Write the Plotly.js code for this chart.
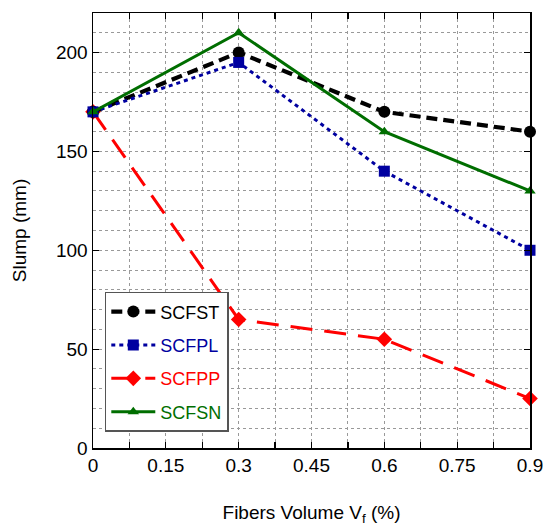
<!DOCTYPE html>
<html><head><meta charset="utf-8">
<script src="https://cdn.plot.ly/plotly-3.0.1.min.js"></script>
<style>html,body{margin:0;padding:0;background:#fff}#c{width:543px;height:526px}</style>
</head><body><div id="c"></div>
<script>
var fiberVolume = [0, 0.3, 0.6, 0.9];
var scfst = [170, 200, 170, 160];
var scfpl = [170, 195, 140, 100];
var scfpp = [170, 65, 55, 25];
var scfsn = [170, 210, 160, 130];
var xTickVals = [0, 0.15, 0.3, 0.45, 0.6, 0.75, 0.9];
var xTickText = ['0', '0.15', '0.3', '0.45', '0.6', '0.75', '0.9'];

function tr(name, y, color, dash, width, symbol, size, grp, rank) {
  return {x: fiberVolume, y: y, mode: 'lines+markers', legendgroup: grp, legendrank: rank,
    cliponaxis: false,
    name: '<span style="color:' + color + '">' + name + '</span>',
    line: {color: color, dash: dash, width: width},
    marker: {symbol: symbol, size: size, color: color}};
}
var data = [
  tr('SCFPP', scfpp, '#ff0000', '22px,12px', 3, 'diamond', 12, 'c', 3),
  tr('SCFST', scfst, '#000000', '11px,6px', 4.2, 'circle', 12, 'a', 1),
  tr('SCFPL', scfpl, '#0000a0', '4px,4px', 3, 'square', 11, 'b', 2),
  tr('SCFSN', scfsn, '#006e00', 'solid', 3, 'triangle-up', 10, 'd', 4)
];
var font = {family: 'Liberation Sans, Arial, sans-serif', size: 19, color: '#000'};
var layout = {
  width: 543, height: 526,
  margin: {l: 93, r: 13, t: 13, b: 78},
  paper_bgcolor: '#fff', plot_bgcolor: '#fff',
  font: font,
  showlegend: true,
  legend: {x: 0.027, y: 0.359, xanchor: 'left', yanchor: 'top',
    bgcolor: '#fff', bordercolor: '#555', borderwidth: 1.5, itemwidth: 44,
    traceorder: 'grouped', tracegroupgap: 7, font: {family: font.family, size: 18}},
  xaxis: {range: [0, 0.9], tickvals: xTickVals, ticktext: xTickText, ticklabeloverflow: 'allow',
    ticks: 'inside', ticklen: 6, tickwidth: 1.2, tickcolor: '#000',
    minor: {dtick: 0.075, tick0: 0, ticks: 'inside', ticklen: 6, tickwidth: 1.2, tickcolor: '#000',
      showgrid: true, gridcolor: '#999', griddash: 'dot', gridwidth: 1},
    showline: true, linecolor: '#000', linewidth: 1.5, mirror: 'ticks',
    showgrid: true, gridcolor: '#999', griddash: 'dot', gridwidth: 1,
    zeroline: false, tickfont: font,
    title: {text: 'Fibers Volume V<sub>f</sub> (%)', font: font, standoff: 36}},
  yaxis: {range: [0, 220], dtick: 50, tick0: 0,
    ticks: 'inside', ticklen: 6, tickwidth: 1.2, tickcolor: '#000',
    showline: true, linecolor: '#000', linewidth: 1.5, mirror: 'ticks',
    showgrid: true, gridcolor: '#999', griddash: 'dot', gridwidth: 1,
    minor: {dtick: 10, showgrid: true, gridcolor: '#999', griddash: 'dot', gridwidth: 1, ticks: ''},
    zeroline: false, tickfont: font,
    title: {text: 'Slump (mm)', font: font, standoff: 24}}
};
Plotly.newPlot('c', data, layout, {displayModeBar: false, staticPlot: true});
</script></body></html>
